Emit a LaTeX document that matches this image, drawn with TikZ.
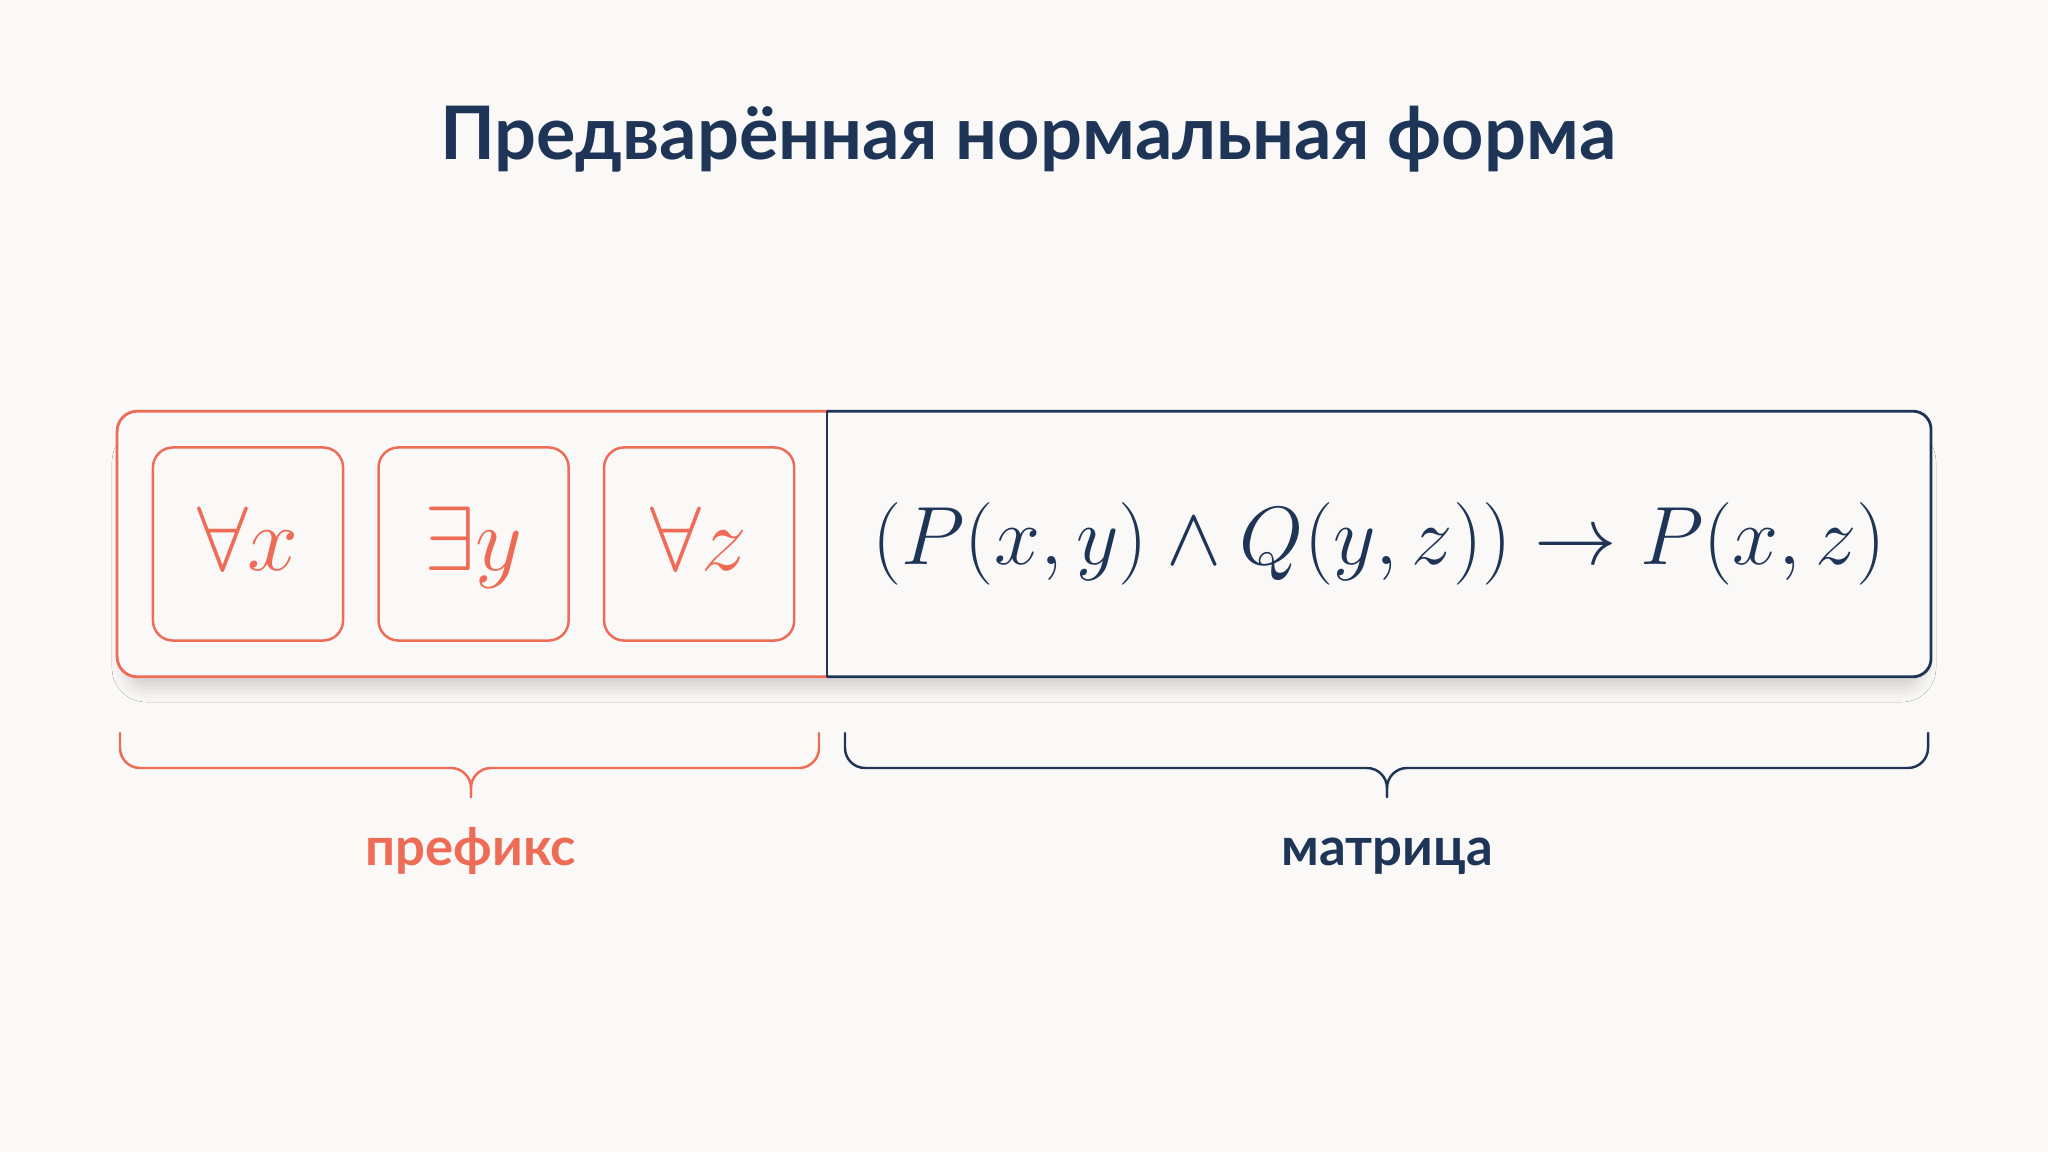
\RequirePackage{fix-cm}
\documentclass[tikz,border=0pt]{standalone}
\usepackage{fontspec}
\newfontfamily\headfont{Lato}
\usetikzlibrary{positioning,shadows.blur}
\definecolor{prefcol}{HTML}{EE6B55}
\definecolor{matcol}{HTML}{1E3557}
\definecolor{bgcol}{HTML}{FAF9F7}
\tikzset{
  every picture/.style={x=0.01cm, y=-0.01cm},
  quant/.style={
    draw=prefcol, line width=0.7pt,
    rounded corners=0.2cm,
    minimum width=1.9cm, minimum height=1.93cm,
    inner sep=0pt, text=prefcol,
    font=\fontsize{26}{31}\selectfont,
    text height=0.7cm, text depth=0.17cm},
  part/.style={minimum height=2.64cm, inner sep=0pt},
  lbl/.style={font=\headfont\bfseries\fontsize{15}{18}\selectfont, anchor=base},
  brc/.style={line width=0.7pt, line cap=round, rounded corners=0.2cm}}

\begin{document}
\begin{tikzpicture}
  \useasboundingbox[fill=bgcol] (0,0) rectangle (2048,1152);

  \node[font=\headfont\bfseries\fontsize{21}{25}\selectfont, text=matcol,
        anchor=base] (title) at (1028,160) {Предварённая нормальная форма};

  % soft shadow under the bar
  \fill[bgcol, rounded corners=0.2cm,
        blur shadow={shadow xshift=0cm, shadow yshift=-0.12cm,
                     shadow blur radius=0.14cm, shadow opacity=16}]
    (126,430) rectangle (1922,676);
  \fill[bgcol, rounded corners=0.2cm] (118,412) rectangle (1930,676);

  \node[part, minimum width=7.1cm] (prefBox) at (473,544) {};
  \node[part, minimum width=11.02cm] (matBox) at (1379,544) {};
  \draw[prefcol, line width=0.8pt, rounded corners=0.2cm]
    (prefBox.north east) -- (prefBox.north west)
    -- (prefBox.south west) -- (prefBox.south east);
  \draw[matcol, line width=0.8pt, rounded corners=0.18cm]
    (matBox.north west) -- (matBox.north east)
    -- (matBox.south east) -- (matBox.south west);
  \draw[matcol, line width=0.8pt] (matBox.north west) -- (matBox.south west);

  \node[quant] (qx) at (248,544) {$\forall x$};
  \node[quant, right=0.33cm of qx] (qy) {$\exists y$};
  \node[quant, right=0.33cm of qy] (qz) {$\forall z$};

  \node[text=matcol, font=\fontsize{23.5}{28}\selectfont, inner sep=0pt]
    (formula) at (matBox) {$(P(x,y)\land Q(y,z))\rightarrow P(x,z)$};

  % braces
  \foreach \xa/\xb/\xm/\col in {120/819/471/prefcol, 845/1928/1387/matcol} {
    \draw[brc, draw=\col] (\xa,733) -- (\xa,768) -- (\xm,768) -- (\xm,797);
    \draw[brc, draw=\col] (\xb,733) -- (\xb,768) -- (\xm,768) -- (\xm,797);
  }

  \node[lbl, text=prefcol] (prefLbl) at (471,865) {префикс};
  \node[lbl, text=matcol] (matLbl) at (1387,865) {матрица};
\end{tikzpicture}
\end{document}
